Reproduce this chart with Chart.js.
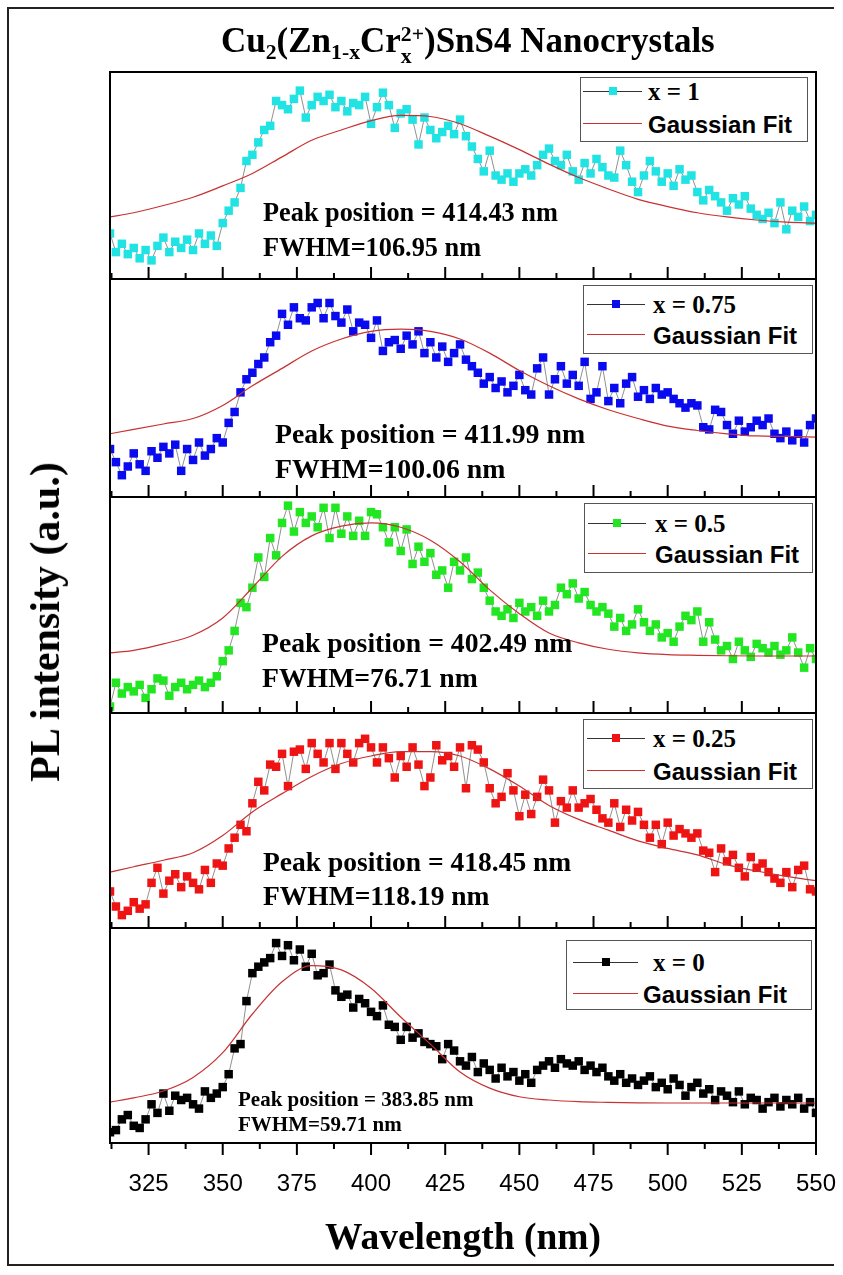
<!DOCTYPE html>
<html>
<head>
<meta charset="utf-8">
<title>Cu2(Zn1-xCrx)SnS4 PL spectra</title>
<script src="https://cdn.jsdelivr.net/npm/chart.js@4.4.1/dist/chart.umd.min.js"></script>
<style>
  body { margin: 0; background: #fff; }
  #wrap { position: relative; width: 843px; height: 1275px; overflow: hidden; background: #fff; }
  #plot { position: absolute; left: 0; top: 0; }
  #frame { position: absolute; left: 7px; top: 7px; width: 827px; height: 1259px; border: 2px solid #222; box-sizing: border-box; border-right: none; }
  .txt { position: absolute; white-space: nowrap; line-height: 1; color: #000; }
  .serif { font-family: "Liberation Serif", "Times New Roman", serif; font-weight: bold; }
  .sans { font-family: "Liberation Sans", Arial, sans-serif; font-weight: bold; }
  .legend { position: absolute; border: 1px solid #555; background: #fff; box-sizing: border-box; }
  .sample { position: absolute; height: 0; border-top: 1px solid #333; }
  .marker { position: absolute; width: 8px; height: 8px; }
  sub.s { font-size: 0.62em; vertical-align: -0.32em; line-height: 0; }
  .ss { display: inline-flex; flex-direction: column; font-size: 0.62em; line-height: 1; vertical-align: 11px; }
</style>
</head>
<body>
<div id="wrap">
  <div id="frame"></div>
  <canvas id="plot" width="843" height="1275"></canvas>
  <div class="txt serif" id="title" style="left:221px; top:23px; font-size:35px;">Cu<sub class="s">2</sub>(Zn<sub class="s">1-x</sub>Cr<span class="ss"><span>2+</span><span>x</span></span>)SnS4 Nanocrystals</div>
  <div class="txt serif" id="ytitle" style="left:45px; top:622px; font-size:42px; transform: translate(-50%, -50%) rotate(-90deg);">PL intensity (a.u.)</div>
  <div class="txt serif" id="xtitle" style="left:463px; top:1218px; font-size:37.5px; transform: translateX(-50%);">Wavelength (nm)</div>
</div>
<script>
// wavelength of each measured point (nm)
const wavelength = [
  312, 314, 316, 318, 320, 322, 324, 326, 328, 330,
  332, 334, 336, 338, 340, 342, 344, 346, 348, 350,
  352, 354, 356, 358, 360, 362, 364, 366, 368, 370,
  372, 374, 376, 378, 380, 382, 384, 386, 388, 390,
  392, 394, 396, 398, 400, 402, 404, 406, 408, 410,
  412, 414, 416, 418, 420, 422, 424, 426, 428, 430,
  432, 434, 436, 438, 440, 442, 444, 446, 448, 450,
  452, 454, 456, 458, 460, 462, 464, 466, 468, 470,
  472, 474, 476, 478, 480, 482, 484, 486, 488, 490,
  492, 494, 496, 498, 500, 502, 504, 506, 508, 510,
  512, 514, 516, 518, 520, 522, 524, 526, 528, 530,
  532, 534, 536, 538, 540, 542, 544, 546, 548, 550
];

// PL intensity, each panel on its own 0-100 scale
const plX1 = [
  22, 13, 17, 12, 15, 10, 14, 9, 16, 20,
  13, 18, 15, 19, 14, 22, 17, 21, 16, 27,
  33, 37, 44, 57, 60, 66, 72, 74, 86, 84,
  82, 87, 91, 78, 84, 88, 86, 89, 83, 86,
  81, 85, 84, 88, 75, 83, 90, 84, 73, 80,
  82, 77, 65, 78, 72, 68, 71, 74, 70, 77,
  69, 64, 58, 52, 62, 50, 48, 51, 47, 51,
  53, 50, 55, 60, 63, 57, 55, 60, 52, 48,
  56, 51, 58, 54, 50, 49, 62, 55, 47, 42,
  50, 57, 52, 47, 51, 45, 53, 48, 50, 42,
  38, 43, 40, 37, 33, 39, 36, 40, 34, 31,
  29, 32, 27, 37, 24, 33, 30, 35, 28, 31
];
const plX075 = [
  22, 16, 10, 14, 20, 15, 12, 21, 18, 23,
  20, 24, 12, 22, 17, 25, 19, 22, 27, 25,
  34, 39, 48, 54, 57, 61, 64, 71, 74, 84,
  79, 87, 82, 81, 87, 89, 82, 89, 83, 80,
  86, 76, 80, 79, 73, 81, 67, 71, 72, 68,
  74, 70, 76, 66, 71, 64, 69, 62, 66, 70,
  63, 60, 57, 52, 55, 50, 53, 48, 51, 56,
  49, 47, 59, 64, 47, 54, 60, 52, 56, 51,
  62, 45, 48, 60, 44, 50, 43, 52, 55, 46,
  49, 45, 50, 47, 48, 45, 43, 41, 43, 42,
  32, 31, 40, 39, 33, 29, 35, 30, 32, 35,
  33, 36, 29, 27, 30, 26, 29, 25, 33, 36
];
const plX05 = [
  3, 14, 9, 12, 10, 13, 7, 11, 16, 15,
  8, 12, 14, 11, 13, 15, 12, 14, 17, 24,
  29, 38, 51, 49, 58, 72, 63, 81, 73, 88,
  96, 84, 93, 88, 91, 86, 95, 81, 95, 83,
  91, 82, 89, 82, 93, 92, 86, 79, 86, 75,
  85, 69, 77, 70, 74, 64, 66, 58, 70, 66,
  72, 62, 65, 58, 52, 47, 45, 48, 44, 51,
  47, 49, 45, 52, 47, 50, 58, 55, 60, 53,
  56, 50, 47, 49, 46, 40, 44, 38, 41, 48,
  42, 38, 41, 35, 37, 33, 40, 45, 43, 47,
  33, 42, 34, 29, 31, 25, 33, 29, 26, 32,
  30, 28, 31, 27, 29, 35, 28, 21, 30, 25
];
const plX025 = [
  17, 10, 6, 8, 12, 9, 11, 21, 28, 16,
  22, 25, 19, 24, 21, 18, 27, 21, 30, 29,
  37, 42, 48, 45, 58, 68, 64, 76, 75, 81,
  66, 82, 83, 74, 86, 81, 77, 86, 74, 86,
  81, 77, 86, 88, 84, 77, 84, 79, 70, 80,
  75, 84, 76, 66, 70, 85, 78, 80, 75, 84,
  65, 85, 83, 77, 65, 58, 61, 72, 64, 52,
  62, 53, 61, 69, 64, 49, 59, 56, 64, 56,
  58, 60, 55, 51, 49, 58, 47, 55, 50, 54,
  48, 42, 48, 39, 49, 43, 46, 44, 42, 44,
  36, 35, 26, 37, 31, 34, 28, 24, 33, 28,
  30, 26, 23, 21, 26, 19, 27, 29, 18, 17
];
const plX0 = [
  5, 6, 11, 13, 8, 7, 11, 18, 14, 23,
  15, 22, 20, 21, 18, 16, 24, 21, 23, 26,
  32, 44, 46, 66, 79, 82, 84, 86, 93, 87,
  92, 85, 90, 82, 88, 78, 79, 83, 71, 68,
  69, 63, 67, 65, 61, 59, 64, 55, 54, 48,
  54, 49, 51, 47, 46, 45, 39, 46, 43, 38,
  36, 40, 33, 37, 34, 30, 35, 31, 33, 29,
  32, 28, 34, 36, 38, 35, 39, 37, 36, 38,
  34, 36, 33, 35, 31, 29, 32, 28, 30, 27,
  29, 31, 26, 28, 25, 30, 27, 22, 26, 28,
  23, 25, 20, 24, 22, 19, 24, 18, 21, 20,
  16, 19, 21, 17, 20, 18, 21, 16, 19, 14
];

// Gaussian fit curves
const fitWavelength = [312, 320, 330, 340, 350, 360, 370, 380, 390, 400, 410, 420, 430,
  440, 450, 460, 470, 480, 490, 500, 510, 520, 530, 540, 550];
const fitX1 = [30, 32, 35.5, 39.5, 45, 51, 59, 67, 72, 76.5, 79, 78.5, 75,
  69, 62.5, 55.5, 49, 43.5, 38.5, 35, 32, 30, 28.5, 27.5, 27];
const fitX075 = [29, 31, 33.5, 36, 42, 51, 59, 67, 72.5, 76, 77, 76, 72.5,
  66, 58, 51, 45, 40, 36, 32.5, 30.5, 29, 28, 27.8, 27.5];
const fitX05 = [27.8, 29, 32, 36, 44, 58, 72.5, 82, 86.5, 88, 86, 80, 70,
  57, 46, 37, 32.5, 29.5, 27.8, 27, 26.7, 26.5, 26.4, 26.4, 26.4];
const fitX025 = [26, 28.5, 31.5, 35, 43, 54, 62.5, 70.5, 76.5, 80, 82, 82, 80,
  74, 66, 57, 50.5, 45.5, 40.5, 37, 34, 29.5, 26.5, 24, 22];
const fitX0 = [19, 21, 24.2, 30.5, 42, 60, 75, 82.5, 80.5, 72, 58.6, 46, 33,
  25.5, 21.5, 20, 19.2, 18.9, 18.7, 18.6, 18.6, 18.6, 18.6, 18.6, 18.6];

const seriesLabels = ['x = 1', 'x = 0.75', 'x = 0.5', 'x = 0.25', 'x = 0'];
const peakLabels = ['Peak position = 414.43 nm', 'Peak position = 411.99 nm', 'Peak position = 402.49 nm',
  'Peak position = 418.45 nm', 'Peak position = 383.85 nm'];
const fwhmLabels = ['FWHM=106.95 nm', 'FWHM=100.06 nm', 'FWHM=76.71 nm', 'FWHM=118.19 nm', 'FWHM=59.71 nm'];
const xTickLabels = [325, 350, 375, 400, 425, 450, 475, 500, 525, 550];

const seriesValues = [plX1, plX075, plX05, plX025, plX0];
const fitValues = [fitX1, fitX075, fitX05, fitX025, fitX0];

// styling / placement
const colors = ['#22e3e3', '#0a0aee', '#22e622', '#ee1414', '#000000'];
const fitColor = '#c83232';
const axisIds = ['y1', 'y2', 'y3', 'y4', 'y5'];
const panelHeights = [207, 218, 216, 215, 215];

const legendBoxes = [
  { l: 580, t: 77, w: 228, h: 65, b1: 100, b2: 133, s0: 583, s1: 642, tx: 648, tx2: 648 },
  { l: 583, t: 285, w: 230, h: 69, b1: 313, b2: 344, s0: 587, s1: 645, tx: 653, tx2: 653 },
  { l: 584, t: 503, w: 229, h: 70, b1: 532, b2: 563, s0: 588, s1: 646, tx: 655, tx2: 655 },
  { l: 583, t: 719, w: 230, h: 70, b1: 747, b2: 780, s0: 587, s1: 645, tx: 653, tx2: 653 },
  { l: 566, t: 940, w: 246, h: 70, b1: 971, b2: 1003, s0: 573, s1: 638, tx: 653, tx2: 643 }
];
const notes = [
  { l: 263, b1: 222, b2: 257, size: 26.3 },
  { l: 275, b1: 443, b2: 478, size: 27.8 },
  { l: 262, b1: 652, b2: 687, size: 27.7 },
  { l: 263, b1: 871, b2: 905, size: 27.5 },
  { l: 238, b1: 1107, b2: 1132, size: 21 }
];

const datasets = [];
seriesValues.forEach((vals, i) => {
  datasets.push({
    label: seriesLabels[i],
    data: vals.map((v, k) => ({ x: wavelength[k], y: v })),
    yAxisID: axisIds[i],
    showLine: true,
    borderColor: '#444',
    borderWidth: 0.6,
    pointStyle: 'rect',
    pointRadius: 6,
    pointBorderWidth: 0,
    pointBackgroundColor: colors[i],
    order: 1
  });
  datasets.push({
    label: 'Gaussian Fit',
    data: fitValues[i].map((v, k) => ({ x: fitWavelength[k], y: v })),
    yAxisID: axisIds[i],
    showLine: true,
    borderColor: fitColor,
    borderWidth: 1.2,
    pointRadius: 0,
    cubicInterpolationMode: 'monotone',
    order: 0
  });
});

const scales = {
  x: {
    type: 'linear',
    position: 'bottom',
    min: 312,
    max: 550,
    grid: { display: false, drawTicks: false },
    border: { display: false },
    ticks: {
      stepSize: 12.5,
      includeBounds: false,
      autoSkip: false,
      maxRotation: 0,
      padding: 27,
      color: '#000',
      font: { family: '"Liberation Sans", Arial, sans-serif', size: 24 },
      callback: v => (xTickLabels.includes(v) ? String(v) : '')
    },
    afterFit: s => { s.height = 60; s.paddingLeft = 0; s.paddingRight = 0; }
  }
};
axisIds.forEach((id, i) => {
  scales[id] = {
    type: 'linear',
    position: 'left',
    stack: 'pl',
    stackWeight: panelHeights[i],
    weight: 10 - i,
    min: 0,
    max: 100,
    ticks: { display: false },
    grid: { display: false, drawTicks: false },
    border: { display: false },
    afterFit: s => { s.width = 0; s.paddingTop = 0; s.paddingBottom = 0; }
  };
});

// box, panel separators and tick marks
const framePlugin = {
  id: 'frame',
  afterDraw(chart) {
    const { ctx, chartArea: a, scales: sc } = chart;
    const xs = sc.x;
    ctx.save();
    ctx.strokeStyle = '#000';
    ctx.lineWidth = 2;
    ctx.strokeRect(a.left, a.top, a.right - a.left, a.bottom - a.top);
    axisIds.forEach((id, i) => {
      const yb = sc[id].bottom;
      ctx.beginPath();
      ctx.moveTo(a.left, yb);
      ctx.lineTo(a.right, yb);
      ctx.stroke();
      const dir = i === axisIds.length - 1 ? 1 : -1;
      xs.ticks.forEach(t => {
        const px = xs.getPixelForValue(t.value);
        const len = t.value % 25 === 0 ? 12 : 6;
        ctx.beginPath();
        ctx.moveTo(px, yb);
        ctx.lineTo(px, yb + dir * len);
        ctx.stroke();
      });
    });
    ctx.restore();
  }
};

new Chart(document.getElementById('plot'), {
  type: 'scatter',
  data: { datasets },
  options: {
    responsive: false,
    devicePixelRatio: 1,
    animation: false,
    events: [],
    layout: { padding: { left: 110, right: 27, top: 72, bottom: 72 } },
    plugins: { legend: { display: false }, tooltip: { enabled: false } },
    scales
  },
  plugins: [framePlugin]
});

// legends and annotations as page text
const wrap = document.getElementById('wrap');
function addDiv(cls, style, text) {
  const d = document.createElement('div');
  d.className = cls;
  Object.assign(d.style, style);
  if (text !== undefined) d.textContent = text;
  wrap.appendChild(d);
  return d;
}
legendBoxes.forEach((L, i) => {
  addDiv('legend', { left: L.l + 'px', top: L.t + 'px', width: L.w + 'px', height: L.h + 'px' });
  const y1 = L.b1 - 9, y2 = L.b2 - 10;
  addDiv('sample', { left: L.s0 + 'px', top: y1 + 'px', width: (L.s1 - L.s0) + 'px', borderTopColor: '#333' });
  addDiv('marker', { left: ((L.s0 + L.s1) / 2 - 4) + 'px', top: (y1 - 4) + 'px', background: colors[i] });
  addDiv('sample', { left: L.s0 + 'px', top: y2 + 'px', width: (L.s1 - L.s0) + 'px', borderTopColor: fitColor });
  addDiv('txt serif', { left: L.tx + 'px', top: (L.b1 - 0.84 * 25) + 'px', fontSize: '25px' }, seriesLabels[i]);
  addDiv('txt sans', { left: L.tx2 + 'px', top: (L.b2 - 0.85 * 24) + 'px', fontSize: '24px' }, 'Gaussian Fit');
});
notes.forEach((n, i) => {
  addDiv('txt serif', { left: n.l + 'px', top: (n.b1 - 0.84 * n.size) + 'px', fontSize: n.size + 'px' }, peakLabels[i]);
  addDiv('txt serif', { left: n.l + 'px', top: (n.b2 - 0.84 * n.size) + 'px', fontSize: n.size + 'px' }, fwhmLabels[i]);
});
</script>
</body>
</html>
